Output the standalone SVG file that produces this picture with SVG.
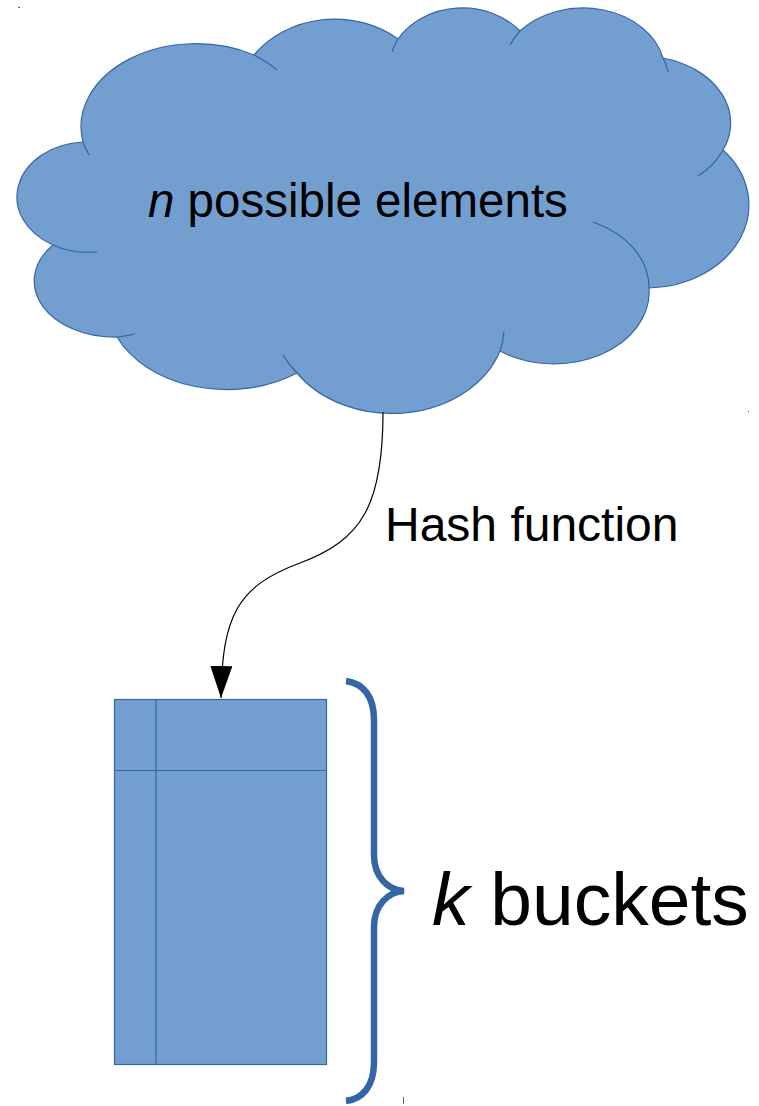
<svg xmlns="http://www.w3.org/2000/svg" width="759" height="1106" viewBox="0 0 759 1106">
  <style>
    .shape { fill: #729fcf; stroke: #3465a4; stroke-width: 1.2; }
    .inner { fill: none; stroke: #3465a4; stroke-width: 1.2; }
    .label { font-family: "Liberation Sans", Arial, sans-serif; fill: #000; }
    .edge { fill: none; stroke: #000; stroke-width: 1.2; }
    .brace { fill: none; stroke: #3465a4; stroke-width: 6.5; stroke-linecap: butt; }
  </style>
  <defs>
    <marker id="arrow" viewBox="0 0 32 22" refX="32" refY="11" markerWidth="32" markerHeight="22" markerUnits="userSpaceOnUse" orient="auto">
      <path d="M0,0 L32,11 L0,22 Z" fill="#000"/>
    </marker>
  </defs>

  <!-- stray marks -->
  <rect x="18" y="7" width="2" height="1" fill="#3465a4"/>
  <rect x="748" y="411" width="1" height="1" fill="#555"/>
  <rect x="403" y="1097" width="1" height="7" fill="#666"/>

  <!-- cloud of possible elements -->
  <g id="cloud">
    <path class="shape" d="M 53,245
      A 70 55 0 0 1 83,142
      A 115 83 0 0 1 254,55
      A 100 88 0 0 1 398,39
      A 75 64 0 0 1 520,31
      A 82 64 0 0 1 663,58
      A 90 67 0 0 1 723,150
      A 103 83 0 0 1 649,288
      A 95 72 0 0 1 500,351
      A 114 91 0 0 1 297,373
      A 120 88 0 0 1 117,337
      A 80 56 0 0 1 53,245 Z"/>
    <!-- inner lobe arcs -->
    <path class="inner" d="M 53,245 A 70 55 0 0 0 97,252
      M 83,142 A 115 83 0 0 0 89,155
      M 254,55 A 115 83 0 0 1 277,70
      M 398,39 A 75 64 0 0 0 392,52
      M 520,31 A 82 64 0 0 0 510,45
      M 663,58 A 82 64 0 0 1 668,72
      M 723,150 A 90 67 0 0 1 698,176
      M 649,288 A 95 72 0 0 0 593,222
      M 500,351 A 114 91 0 0 0 504,332
      M 297,373 A 114 91 0 0 1 283,355
      M 117,337 A 80 56 0 0 0 135,334"/>
    <text class="label" x="148" y="217" font-size="47.5"><tspan font-style="italic">n</tspan> possible elements</text>
  </g>

  <!-- bucket array -->
  <g id="buckets">
    <rect class="shape" x="114.5" y="699.5" width="212" height="365"/>
    <line class="inner" x1="156" y1="699.5" x2="156" y2="1064.5"/>
    <line class="inner" x1="114.5" y1="770.5" x2="326.5" y2="770.5"/>
  </g>

  <!-- brace with bucket count -->
  <g id="brace">
    <path class="brace" d="M 346,681 C 362,683 374,695 374,720 L 374,855 C 374,877 388,890 404,891 C 388,892 374,905 374,927 L 374,1062 C 374,1087 362,1099 346,1101"/>
    <text class="label" x="432" y="925" font-size="75"><tspan font-style="italic">k</tspan> buckets</text>
  </g>

  <!-- hash function connector -->
  <g id="connectors">
    <path class="edge" d="M 383,412 C 383,505 362,540 300,563 C 238,586 222,615 221,698" marker-end="url(#arrow)"/>
    <text class="label" x="385" y="541" font-size="48">Hash function</text>
  </g>
</svg>
